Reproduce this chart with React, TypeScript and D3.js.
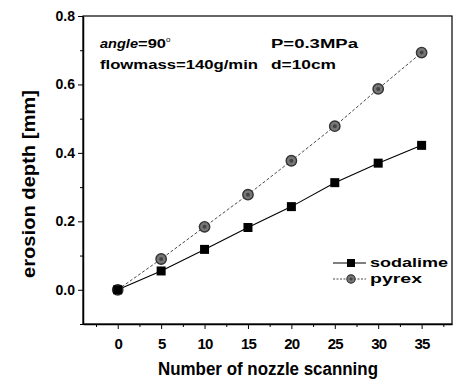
import * as d3 from "d3";
import { useEffect, useRef } from "react";

const scans = [0, 5, 10, 15, 20, 25, 30, 35];
const sodalime = [0, 0.055, 0.118, 0.182, 0.243, 0.313, 0.37, 0.422];
const pyrex = [0, 0.09, 0.184, 0.278, 0.377, 0.478, 0.587, 0.693];
const xTicks = [0, 5, 10, 15, 20, 25, 30, 35];
const yTicks = [0, 0.2, 0.4, 0.6, 0.8];
const seriesNames = ["sodalime", "pyrex"];

export default function App() {
    const ref = useRef<SVGSVGElement>(null);

    useEffect(() => {
        const svg = d3.select(ref.current);
        svg.selectAll("*").remove();

        const width = 457,
            height = 381;
        const left = 83,
            right = 452,
            top = 16,
            bottom = 324;
        const font = "'Liberation Sans', Arial, sans-serif";

        const x = d3.scaleLinear().domain([-4, 38.5]).range([left, right]);
        const y = d3.scaleLinear().domain([-0.1, 0.8]).range([bottom, top]);

        svg.append("rect")
            .attr("width", width)
            .attr("height", height)
            .attr("fill", "#fff");

        // frame
        svg.append("rect")
            .attr("x", left)
            .attr("y", top)
            .attr("width", right - left)
            .attr("height", bottom - top)
            .attr("fill", "none")
            .attr("stroke", "#000")
            .attr("stroke-width", 1.2);

        // x axis
        const xAxis = svg.append("g")
            .attr("transform", `translate(0, ${bottom})`)
            .call(d3.axisBottom(x).tickValues(xTicks).tickSize(5).tickSizeOuter(0).tickFormat(d3.format("d")));
        xAxis.select(".domain").attr("stroke-width", 1.5);
        xAxis.selectAll("text")
            .attr("font-family", font)
            .attr("font-weight", "bold")
            .attr("font-size", 15)
            .attr("letter-spacing", -0.8)
            .attr("dy", "1.1em")
            .attr("fill", "#000");
        svg.append("g")
            .attr("transform", `translate(0, ${bottom})`)
            .call(d3.axisBottom(x).tickValues(d3.range(-2.5, 38, 5)).tickSize(3).tickSizeOuter(0).tickFormat(() => ""))
            .select(".domain").remove();

        // y axis
        const yAxis = svg.append("g")
            .attr("transform", `translate(${left}, 0)`)
            .call(d3.axisLeft(y).tickValues(yTicks).tickSize(5).tickSizeOuter(0).tickFormat(d3.format(".1f")));
        yAxis.select(".domain").attr("stroke-width", 1.5);
        yAxis.selectAll("text")
            .attr("font-family", font)
            .attr("font-weight", "bold")
            .attr("font-size", 14)
            .attr("fill", "#000");
        svg.append("g")
            .attr("transform", `translate(${left}, 0)`)
            .call(d3.axisLeft(y).tickValues([-0.1, 0.1, 0.3, 0.5, 0.7]).tickSize(3).tickSizeOuter(0).tickFormat(() => ""))
            .select(".domain").remove();

        // axis titles
        svg.append("text")
            .attr("x", 158)
            .attr("y", 375)
            .attr("font-family", font)
            .attr("font-weight", "bold")
            .attr("font-size", 18)
            .attr("textLength", 220)
            .attr("lengthAdjust", "spacingAndGlyphs")
            .text("Number of nozzle scanning");

        svg.append("text")
            .attr("transform", `translate(35, 278) rotate(-90)`)
            .attr("font-family", font)
            .attr("font-weight", "bold")
            .attr("font-size", 18)
            .attr("textLength", 188)
            .attr("lengthAdjust", "spacingAndGlyphs")
            .text("erosion depth [mm]");

        // annotations
        const note = svg.append("g")
            .attr("font-family", font)
            .attr("font-weight", "bold")
            .attr("font-size", 12);
        const a = note.append("text").attr("x", 100).attr("y", 48);
        a.append("tspan").attr("font-style", "italic").attr("textLength", 38).attr("lengthAdjust", "spacingAndGlyphs").text("angle");
        a.append("tspan").attr("textLength", 28).attr("lengthAdjust", "spacingAndGlyphs").text("=90");
        a.append("tspan").attr("dy", -6).attr("font-size", 8).attr("font-weight", "normal").text("o");
        note.append("text").attr("x", 100).attr("y", 69)
            .attr("textLength", 158).attr("lengthAdjust", "spacingAndGlyphs").text("flowmass=140g/min");
        note.append("text").attr("x", 271).attr("y", 48)
            .attr("textLength", 87).attr("lengthAdjust", "spacingAndGlyphs").text("P=0.3MPa");
        note.append("text").attr("x", 271).attr("y", 69)
            .attr("textLength", 65).attr("lengthAdjust", "spacingAndGlyphs").text("d=10cm");

        // lines
        const line = d3.line<number>()
            .x((d, i) => x(scans[i]))
            .y((d) => y(d));

        svg.append("path")
            .datum(pyrex)
            .attr("d", line)
            .attr("fill", "none")
            .attr("stroke", "#333")
            .attr("stroke-width", 0.9)
            .attr("stroke-dasharray", "3,2");

        svg.append("path")
            .datum(sodalime)
            .attr("d", line)
            .attr("fill", "none")
            .attr("stroke", "#000")
            .attr("stroke-width", 1.1);

        const circleMark = (g: d3.Selection<any, any, any, any>) => {
            g.append("circle").attr("r", 5.2).attr("fill", "#777").attr("stroke", "#333").attr("stroke-width", 1.4);
            g.append("circle").attr("r", 2).attr("fill", "#444");
        };

        svg.selectAll("g.pyrex")
            .data(pyrex)
            .join("g")
            .attr("class", "pyrex")
            .attr("transform", (d, i) => `translate(${x(scans[i])}, ${y(d)})`)
            .call(circleMark);

        svg.selectAll("rect.soda")
            .data(sodalime)
            .join("rect")
            .attr("class", "soda")
            .attr("x", (d, i) => x(scans[i]) - 4.5)
            .attr("y", (d) => y(d) - 4.5)
            .attr("width", 9)
            .attr("height", 9)
            .attr("fill", "#000");

        // legend
        const legend = svg.append("g").attr("font-family", font).attr("font-weight", "bold").attr("font-size", 13);
        const legendWidths = [78, 52];
        seriesNames.forEach((name, i) => {
            const ly = 263 + i * 16;
            legend.append("line")
                .attr("x1", 333).attr("x2", 366).attr("y1", ly).attr("y2", ly)
                .attr("stroke", i === 0 ? "#000" : "#333")
                .attr("stroke-width", i === 0 ? 1.1 : 0.9)
                .attr("stroke-dasharray", i === 0 ? null : "2,1.5");
            if (i === 0) {
                legend.append("rect").attr("x", 347).attr("y", ly - 4).attr("width", 8).attr("height", 8).attr("fill", "#000");
            } else {
                legend.append("g").attr("transform", `translate(351, ${ly}) scale(0.8)`).call(circleMark);
            }
            legend.append("text").attr("x", 370).attr("y", ly + 4)
                .attr("textLength", legendWidths[i]).attr("lengthAdjust", "spacingAndGlyphs").text(name);
        });
    }, []);

    return <svg ref={ref} width={457} height={381} style={{ position: "absolute", left: 0, top: 0 }}></svg>;
}
